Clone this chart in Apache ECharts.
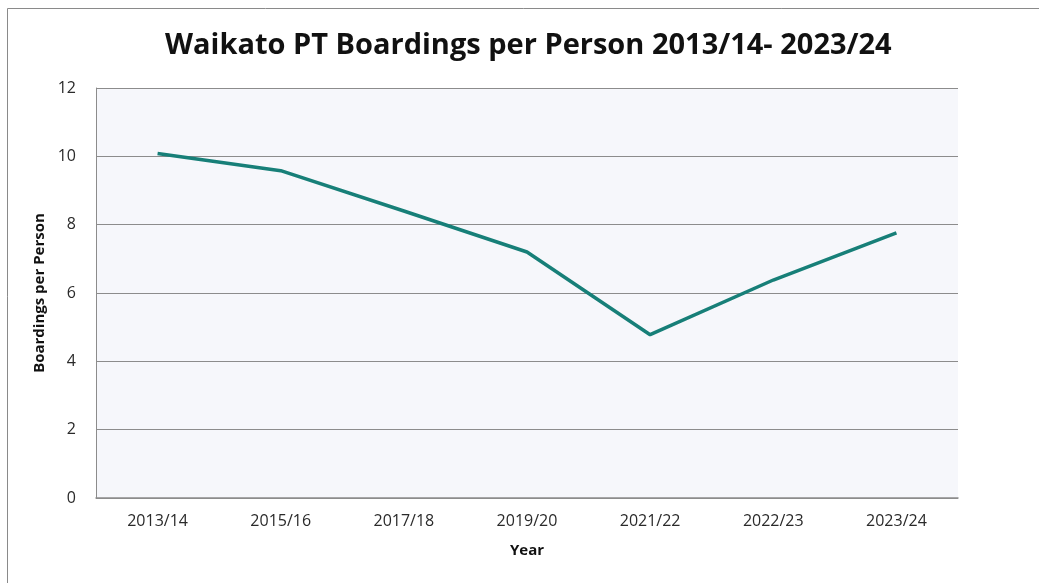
<!DOCTYPE html>
<html>
<head>
<meta charset="utf-8">
<script src="https://cdn.jsdelivr.net/npm/echarts@6/dist/echarts.min.js"></script>
<style>
  html, body { margin: 0; padding: 0; background: #fff; }
  #chart { width: 1039px; height: 583px; }
</style>
</head>
<body>
<div id="chart"></div>
<script>
  // 年度与每人乘车次数
  var years = ['2013/14', '2015/16', '2017/18', '2019/20', '2021/22', '2022/23', '2023/24']
  var boardings = [10.08, 9.58, 8.4, 7.2, 4.78, 6.38, 7.76]
  var yTicks = [0, 2, 4, 6, 8, 10, 12]

  var font = '"Open Sans", "Noto Sans", sans-serif'
  var chart = echarts.init(document.getElementById('chart'))
  chart.setOption({
    animation: false,
    title: {
      text: 'Waikato PT Boardings per Person 2013/14- 2023/24',
      left: 160,
      top: 26,
      textStyle: {
        color: '#111',
        fontFamily: font,
        fontWeight: 'bold',
        fontSize: 29
      }
    },
    graphic: [
      {
        type: 'polyline',
        shape: { points: [[7.5, 590], [7.5, 8.5], [1045, 8.5]] },
        style: { stroke: '#8a8a8a', lineWidth: 1, fill: null }
      }
    ],
    grid: {
      left: 96,
      right: 81,
      top: 88,
      bottom: 85,
      show: true,
      backgroundColor: '#f6f7fb',
      borderWidth: 0
    },
    xAxis: {
      type: 'category',
      data: years,
      name: 'Year',
      nameLocation: 'middle',
      nameGap: 45,
      nameTextStyle: { color: '#111', fontWeight: 'bold', fontSize: 15, fontFamily: font },
      axisTick: { show: false },
      axisLine: { lineStyle: { color: '#8c8c8c', width: 1.5 } },
      axisLabel: { color: '#2a2a2a', fontSize: 16, margin: 15, fontFamily: font }
    },
    yAxis: {
      type: 'value',
      min: yTicks[0],
      max: yTicks[yTicks.length - 1],
      interval: 2,
      name: 'Boardings per Person',
      nameLocation: 'middle',
      nameGap: 43,
      nameTextStyle: { color: '#111', fontWeight: 'bold', fontSize: 15, fontFamily: font },
      axisLine: { show: true, lineStyle: { color: '#8c8c8c' } },
      axisTick: { show: false },
      axisLabel: { color: '#2a2a2a', fontSize: 16, margin: 20, fontFamily: font },
      splitLine: { lineStyle: { color: '#8c8c8c', width: 1 } }
    },
    series: [
      {
        name: 'Boardings per Person',
        type: 'line',
        data: boardings,
        symbol: 'none',
        lineStyle: { color: '#177f78', width: 3.5 },
        itemStyle: { color: '#177f78' }
      }
    ]
  })
</script>
</body>
</html>
